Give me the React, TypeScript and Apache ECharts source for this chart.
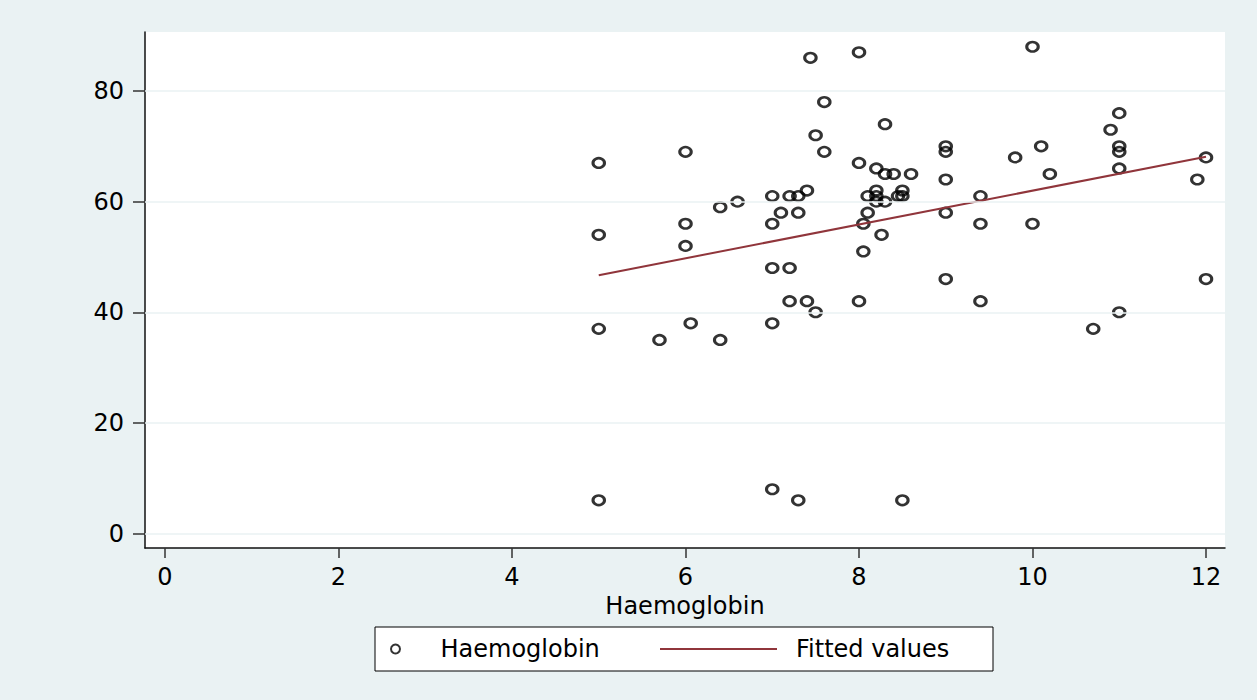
import React, { useEffect, useRef } from "react";
import * as echarts from "echarts";

// Scatter data (x = Haemoglobin, y = outcome)
const hbValues = [
  5, 5, 5, 5, 5.7, 6, 6, 6, 6.06, 6.4, 6.4, 6.6, 7, 7, 7, 7, 7, 7.1, 7.2, 7.2,
  7.2, 7.3, 7.3, 7.3, 7.4, 7.4, 7.44, 7.5, 7.5, 7.6, 7.6, 8, 8, 8, 8.05, 8.05,
  8.1, 8.1, 8.2, 8.2, 8.2, 8.2, 8.3, 8.3, 8.3, 8.26, 8.4, 8.45, 8.5, 8.5, 8.5,
  8.6, 9, 9, 9, 9, 9, 9.4, 9.4, 9.4, 9.8, 10, 10, 10.1, 10.2, 10.7, 10.9, 11,
  11, 11, 11, 11, 11.9, 12, 12,
];
const outcomeValues = [
  67, 54, 37, 6, 35, 69, 56, 52, 38, 59, 35, 60, 61, 56, 48, 38, 8, 58, 61, 48,
  42, 61, 58, 6, 62, 42, 86, 72, 40, 78, 69, 87, 67, 42, 56, 51, 61, 58, 66, 62,
  61, 60, 74, 65, 60, 54, 65, 61, 62, 61, 6, 65, 70, 69, 64, 58, 46, 61, 56, 42,
  68, 88, 56, 70, 65, 37, 73, 76, 70, 69, 66, 40, 64, 68, 46,
];

// Fitted regression line end points
const fitX = [5, 12];
const fitY = [46.7, 68.1];

// Axis ticks
const xTicks = [0, 2, 4, 6, 8, 10, 12];
const yTicks = [0, 20, 40, 60, 80];

const BG = "#eaf2f3";
const MAROON = "#90353b";
const FONT = "DejaVu Sans";

export default function App() {
  const ref = useRef<HTMLDivElement>(null);

  useEffect(() => {
    if (!ref.current) return;
    const chart = echarts.init(ref.current, undefined, { renderer: "svg" });
    const scatterData = hbValues.map((x, i) => [x, outcomeValues[i]]);
    const fitData = fitX.map((x, i) => [x, fitY[i]]);

    chart.setOption({
      animation: false,
      backgroundColor: BG,
      grid: {
        left: 145,
        right: 32,
        top: 32,
        bottom: 152,
        containLabel: false,
        show: true,
        backgroundColor: "#ffffff",
        borderWidth: 0,
      },
      xAxis: {
        type: "value",
        min: -0.2305,
        max: 12.219,
        name: "Haemoglobin",
        nameLocation: "middle",
        nameGap: 36,
        nameTextStyle: { fontFamily: FONT, fontSize: 24, color: "#000" },
        axisLine: { show: true, onZero: false, lineStyle: { color: "#111", width: 1.5 } },
        axisTick: {
          show: true,
          length: 10,
          customValues: xTicks,
          lineStyle: { color: "#333", width: 1.5 },
        },
        axisLabel: {
          customValues: xTicks,
          margin: 17,
          fontFamily: FONT,
          fontSize: 24,
          color: "#000",
        },
        splitLine: { show: false },
      },
      yAxis: {
        type: "value",
        min: -2.62,
        max: 90.67,
        axisLine: { show: true, onZero: false, lineStyle: { color: "#111", width: 1.5 } },
        axisTick: {
          show: true,
          length: 12,
          customValues: yTicks,
          lineStyle: { color: "#333", width: 1.5 },
        },
        axisLabel: {
          customValues: yTicks,
          margin: 21,
          fontFamily: FONT,
          fontSize: 24,
          color: "#000",
        },
        splitLine: { show: false },
      },
      legend: [
        {
          data: ["Haemoglobin"],
          left: 390,
          top: 637,
          padding: 0,
          itemWidth: 80,
          itemHeight: 9,
          textStyle: { fontFamily: FONT, fontSize: 24, color: "#000" },
        },
        {
          data: [{ name: "Fitted values", icon: "rect" }],
          left: 660,
          top: 637,
          padding: 0,
          itemWidth: 117,
          itemHeight: 2,
          itemStyle: { color: MAROON, borderWidth: 0 },
          textStyle: {
            fontFamily: FONT,
            fontSize: 24,
            color: "#000",
            padding: [0, 0, 0, 14],
          },
        },
      ],
      graphic: [
        {
          type: "rect",
          shape: { x: 375, y: 627, width: 618, height: 44 },
          style: { fill: "#ffffff", stroke: "#000", lineWidth: 1 },
          z: 0,
          silent: true,
        },
      ],
      series: [
        {
          name: "Haemoglobin",
          type: "scatter",
          data: scatterData,
          symbol: "circle",
          symbolSize: [11.5, 9.5],
          itemStyle: {
            color: "rgba(0,0,0,0)",
            borderColor: "#000",
            borderWidth: 2.8,
          },
          z: 3,
          markLine: {
            silent: true,
            symbol: ["none", "none"],
            label: { show: false },
            lineStyle: { color: BG, width: 1.6, type: "solid" },
            data: yTicks.map((v) => ({ yAxis: v })),
          },
        },
        {
          name: "Fitted values",
          type: "line",
          data: fitData,
          symbol: "none",
          lineStyle: { color: MAROON, width: 2 },
          itemStyle: { color: MAROON },
          z: 4,
        },
      ],
    });
    return () => chart.dispose();
  }, []);

  return (
    <div
      ref={ref}
      style={{ position: "fixed", left: 0, top: 0, width: 1257, height: 700 }}
    />
  );
}
